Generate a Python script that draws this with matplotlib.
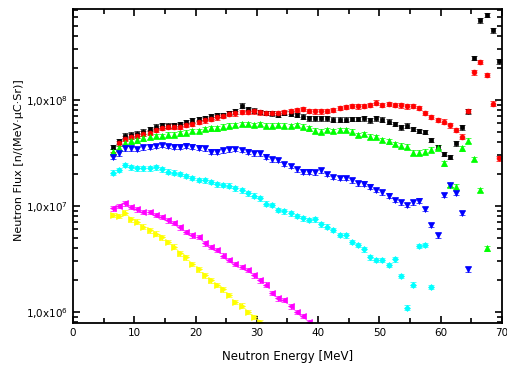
import numpy as np
import matplotlib
matplotlib.use('Agg')
import matplotlib.pyplot as plt
from matplotlib.ticker import FixedLocator, LogLocator, MultipleLocator, NullFormatter

# bin centres [MeV]
energy = np.arange(6.5, 70.0, 1.0)

# flux values in units of 1e6 n/(MeV uC Sr)
black = [36, 40.5, 46, 47, 48, 50, 53, 56, 57.5, 57,
         57.5, 59, 62, 64, 66, 67.5, 70, 72, 72, 75,
         78, 88, 82, 79, 77, 75, 74.5, 72, 75, 74,
         72, 69.5, 67, 67, 67, 67, 65, 65, 65, 66,
         66, 67, 64, 67, 65, 62.4, 59, 55, 57, 53,
         51, 49.6, 42, 36, 31, 29, 39, 55, 78, 247,
         560, 630, 450, 230]
red = [31, 39, 43, 45, 46, 48, 49, 52, 54.5, 56,
       56, 56, 58, 59, 62, 64, 66, 68.5, 70.6, 74,
       74.5, 77, 77, 78, 76, 75, 75, 75, 77, 78,
       80.5, 81.7, 78.7, 77.6, 77.6, 78.7, 80.5, 83.5, 85.3, 87.8,
       86.5, 87.8, 89.7, 94, 89.7, 91, 89.7, 88.4, 86.5, 87.8,
       83.5, 75, 69, 64.7, 62.4, 57.5, 52, 45, 78.7, 181,
       227, 172, 92, 28]
green = [32.5, 35, 39.5, 40.5, 41.5, 43.5, 45, 45.8, 45.8, 47,
         47, 48.5, 49, 51, 51, 53, 54, 54, 56, 57,
         58, 59, 59, 58, 59, 57, 57, 58, 57, 56.9,
         58, 56, 54, 51.3, 50.2, 52, 51, 52, 52, 50.2,
         46.8, 47.8, 45, 44.5, 42, 40.5, 38.5, 37, 36.3, 31.8,
         31.8, 32.5, 34, 35.5, 25.3, 15.8, 15.2, 35, 41.3, 27.7,
         14.2, 4.0]
blue = [29.2, 31.4, 35, 35, 34.5, 35.8, 36.3, 36.8, 37.7, 36.8,
        36.3, 36.3, 37, 36.3, 35.5, 35, 32.5, 32.5, 33.3, 34.2,
        34.5, 33.7, 32.5, 31.4, 31.4, 29.2, 27.6, 27.2, 24.9, 23.8,
        22.2, 21.1, 21.1, 20.7, 21.6, 20, 18.7, 18.3, 18.3, 17.4,
        16.4, 16.2, 15.2, 14.2, 13.4, 12.5, 11.4, 10.8, 10.2, 10.8,
        11.2, 9.4, 6.6, 5.3, 12.7, 15.8, 13.3, 8.6, 2.53]
cyan = [20.6, 21.9, 24.4, 23.2, 22.7, 22.7, 22.7, 23.2, 22.2, 21.1,
        20.6, 20, 19.2, 18.3, 17.6, 17.4, 16.8, 16, 15.8, 15.5,
        14.7, 14, 13.2, 12.5, 11.8, 10.5, 10.2, 9.2, 8.9, 8.5,
        8.05, 7.65, 7.38, 7.5, 6.72, 6.38, 5.94, 5.33, 5.3, 4.6,
        4.28, 3.9, 3.28, 3.1, 3.1, 2.78, 3.15, 2.19, 1.1, 1.82,
        4.2, 4.3, 1.73]
magenta = [9.5, 10, 10.6, 9.8, 9.3, 8.8, 8.8, 8.2, 7.9, 7.3,
           6.9, 6.3, 5.7, 5.3, 5.1, 4.45, 4.1, 3.85, 3.4, 3.1,
           2.84, 2.67, 2.49, 2.23, 2.0, 1.82, 1.52, 1.35, 1.3, 1.13,
           1.0, 0.92, 0.805]
yellow = [8.2, 8.05, 8.65, 7.5, 7.1, 6.4, 5.9, 5.5, 5.07, 4.6,
          4.13, 3.58, 3.28, 2.84, 2.53, 2.23, 2.0, 1.8, 1.64, 1.45,
          1.25, 1.15, 1.0, 0.9, 0.81]

rel_err = 0.05

series = [
    (black, '#000000', 's', 3.5),
    (red, '#ff0000', 'o', 3.5),
    (green, '#00ff00', '^', 4),
    (blue, '#0000ff', 'v', 4),
    (cyan, '#00ffff', 'D', 3),
    (magenta, '#ff00ff', '<', 4),
    (yellow, '#ffff00', '>', 4),
]

ytick_vals = [1e6, 1e7, 1e8]
ytick_labels = [r'1,0x10$^{6}$', r'1,0x10$^{7}$', r'1,0x10$^{8}$']

fig = plt.figure(figsize=(5.07, 3.76), dpi=100)
ax = fig.add_axes([0.144, 0.141, 0.846, 0.834])

for vals, col, mk, ms in series:
    y = np.array(vals) * 1e6
    x = energy[:len(y)]
    ax.errorbar(x, y, yerr=rel_err * y, fmt=mk, color=col, ms=ms,
                capsize=2.5, elinewidth=1, capthick=1, mew=0.5)

ax.set_yscale('log')
ax.set_xlim(0, 70)
ax.set_ylim(7.9e5, 7.1e8)

ax.xaxis.set_major_locator(MultipleLocator(10))
ax.xaxis.set_minor_locator(MultipleLocator(5))
ax.yaxis.set_major_locator(FixedLocator(ytick_vals))
ax.set_yticklabels(ytick_labels)
ax.yaxis.set_minor_locator(LogLocator(base=10, subs=np.arange(2, 10)))
ax.yaxis.set_minor_formatter(NullFormatter())

ax.tick_params(which='both', direction='in', top=True, right=True,
               width=1.2, labelsize=7.5)
ax.tick_params(which='major', length=5)
ax.tick_params(which='minor', length=3.5)
for sp in ax.spines.values():
    sp.set_linewidth(1.3)

ax.set_xlabel('Neutron Energy [MeV]', fontsize=8.5)
ax.set_ylabel('Neutron Flux [n/(MeV\u00b7\u03bcC\u00b7Sr)]', fontsize=8)
ax.xaxis.set_label_coords(0.5, -0.085)
ax.yaxis.set_label_coords(-0.115, 0.52)

fig.savefig('out.png', dpi=100)
